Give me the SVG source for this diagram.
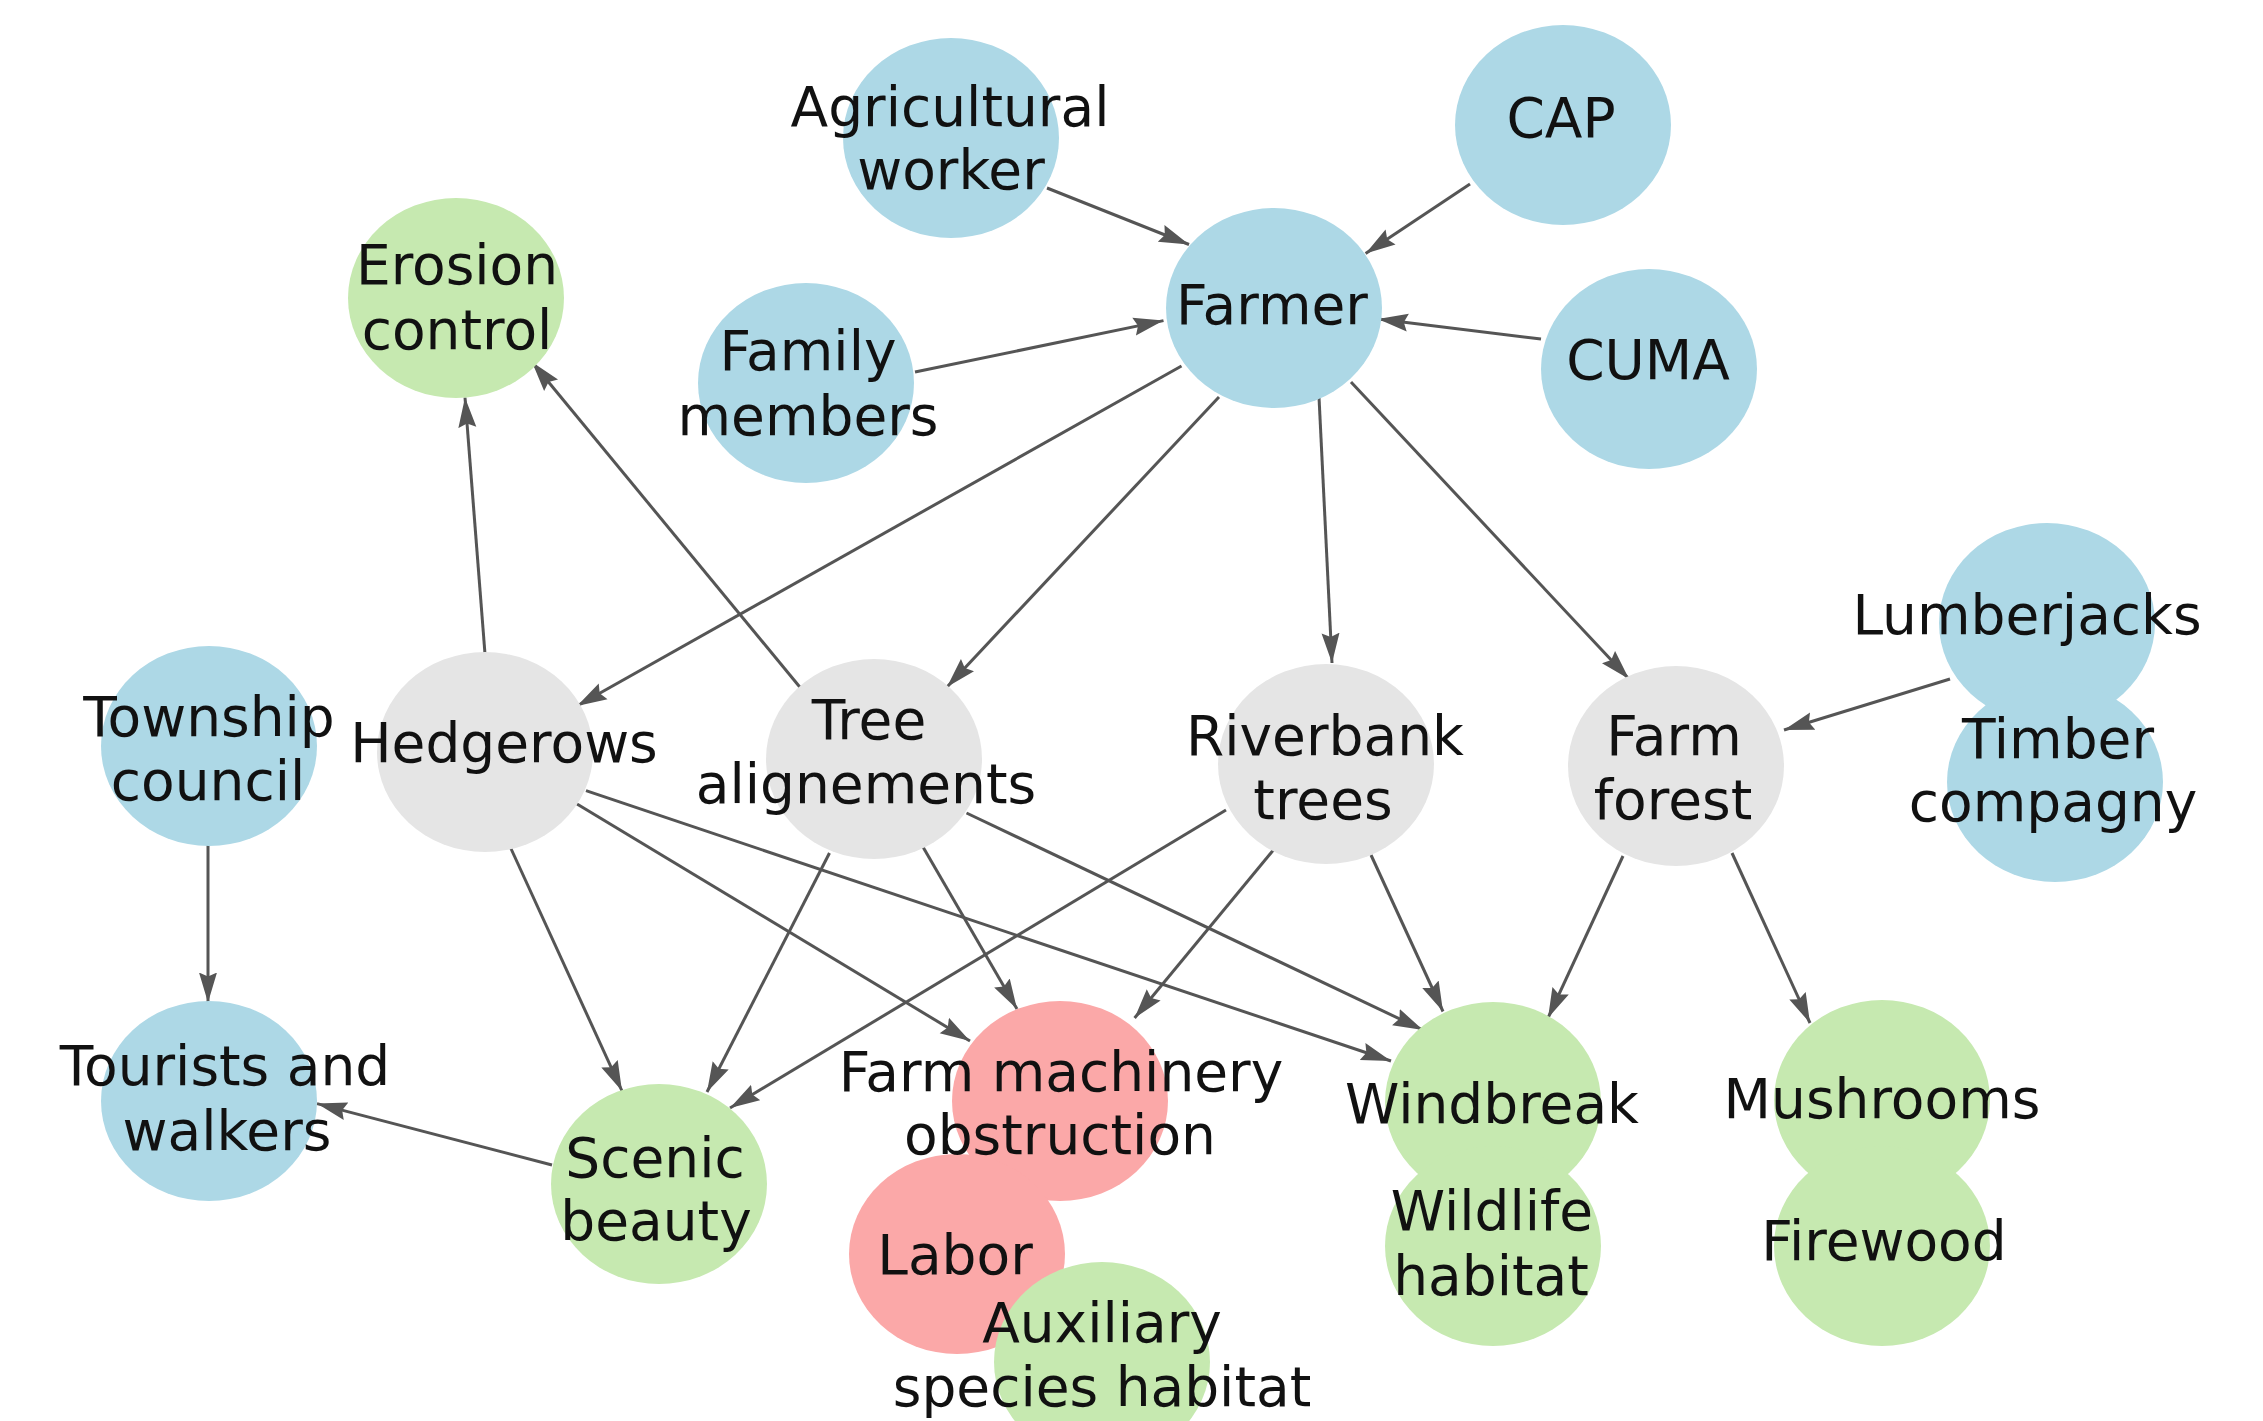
<svg xmlns="http://www.w3.org/2000/svg" width="2263" height="1421" viewBox="0 0 2263 1421">
<style>
.blue{fill:#add8e6}
.gray{fill:#e5e5e5}
.green{fill:#c6e9b0}
.pink{fill:#fba8a8}
text{font-family:"DejaVu Sans","Liberation Sans",sans-serif;font-size:55px;fill:#111;text-anchor:middle}
.e{stroke:#555;stroke-width:3;fill:none;marker-end:url(#ah)}
</style>
<defs>
<marker id="ah" markerUnits="userSpaceOnUse" markerWidth="30" markerHeight="20" viewBox="0 0 30 20" refX="30" refY="10" orient="auto">
<path d="M0,1 L30,10 L0,19 L4,10 z" fill="#555"/>
</marker>
</defs>
<rect width="2263" height="1421" fill="#fff"/>
<g id="connectors">
<line class="e" x1="1047" y1="188" x2="1189" y2="244.5"/>
<line class="e" x1="1470" y1="184" x2="1365.6" y2="253.6"/>
<line class="e" x1="915" y1="372" x2="1163.5" y2="320.6"/>
<line class="e" x1="1541" y1="339" x2="1378" y2="319"/>
<line class="e" x1="1181.5" y1="366" x2="577" y2="706"/>
<line class="e" x1="1219" y1="397" x2="947" y2="687"/>
<line class="e" x1="1319" y1="397" x2="1332" y2="663"/>
<line class="e" x1="1351" y1="382" x2="1629" y2="679"/>
<line class="e" x1="1950" y1="679" x2="1784" y2="730"/>
<line class="e" x1="485" y1="654" x2="465" y2="397.5"/>
<line class="e" x1="800.6" y1="688" x2="532" y2="362"/>
<line class="e" x1="208" y1="843" x2="208" y2="1002.5"/>
<line class="e" x1="552" y1="1165" x2="317" y2="1103.6"/>
<line class="e" x1="510.7" y1="848" x2="622" y2="1091"/>
<line class="e" x1="577" y1="804" x2="970" y2="1041"/>
<line class="e" x1="586" y1="790.7" x2="1391" y2="1061"/>
<line class="e" x1="829.5" y1="853" x2="707" y2="1092"/>
<line class="e" x1="923" y1="847" x2="1017" y2="1009"/>
<line class="e" x1="966.5" y1="813" x2="1423" y2="1030"/>
<line class="e" x1="1226" y1="810" x2="730" y2="1108"/>
<line class="e" x1="1275" y1="848" x2="1134.6" y2="1018"/>
<line class="e" x1="1371" y1="855" x2="1443" y2="1011.5"/>
<line class="e" x1="1623" y1="856" x2="1548" y2="1018"/>
<line class="e" x1="1732" y1="853" x2="1810" y2="1023"/>
</g>
<g id="n-agricultural-worker"><ellipse class="blue" cx="951" cy="138" rx="108" ry="100"/></g>
<g id="n-cap"><ellipse class="blue" cx="1563" cy="125" rx="108" ry="100"/></g>
<g id="n-farmer"><ellipse class="blue" cx="1274" cy="308" rx="108" ry="100"/></g>
<g id="n-family-members"><ellipse class="blue" cx="806" cy="383" rx="108" ry="100"/></g>
<g id="n-cuma"><ellipse class="blue" cx="1649" cy="369" rx="108" ry="100"/></g>
<g id="n-lumberjacks"><ellipse class="blue" cx="2047" cy="623" rx="108" ry="100"/></g>
<g id="n-timber-compagny"><ellipse class="blue" cx="2055" cy="782" rx="108" ry="100"/></g>
<g id="n-township-council"><ellipse class="blue" cx="209" cy="746" rx="108" ry="100"/></g>
<g id="n-tourists-and-walkers"><ellipse class="blue" cx="209" cy="1101" rx="108" ry="100"/></g>
<g id="n-hedgerows"><ellipse class="gray" cx="485" cy="752" rx="108" ry="100"/></g>
<g id="n-tree-alignements"><ellipse class="gray" cx="874" cy="759" rx="108" ry="100"/></g>
<g id="n-riverbank-trees"><ellipse class="gray" cx="1326" cy="764" rx="108" ry="100"/></g>
<g id="n-farm-forest"><ellipse class="gray" cx="1676" cy="766" rx="108" ry="100"/></g>
<g id="n-erosion-control"><ellipse class="green" cx="456" cy="298" rx="108" ry="100"/></g>
<g id="n-scenic-beauty"><ellipse class="green" cx="659" cy="1184" rx="108" ry="100"/></g>
<g id="n-windbreak"><ellipse class="green" cx="1493" cy="1102" rx="108" ry="100"/></g>
<g id="n-wildlife-habitat"><ellipse class="green" cx="1493" cy="1246" rx="108" ry="100"/></g>
<g id="n-mushrooms"><ellipse class="green" cx="1882" cy="1100" rx="108" ry="100"/></g>
<g id="n-firewood"><ellipse class="green" cx="1882" cy="1246" rx="108" ry="100"/></g>
<g id="n-farm-machinery-obstruction"><ellipse class="pink" cx="1060" cy="1101" rx="108" ry="100"/></g>
<g id="n-labor"><ellipse class="pink" cx="957" cy="1254" rx="108" ry="100"/></g>
<g id="n-auxiliary-species-habitat"><ellipse class="green" cx="1102" cy="1362" rx="108" ry="100"/></g>
<g id="labels">
<text x="950" y="126">Agricultural</text><text x="951" y="189">worker</text>
<text x="1561" y="137">CAP</text>
<text x="1272" y="324">Farmer</text>
<text x="808" y="370">Family</text><text x="808" y="435">members</text>
<text x="1648" y="379">CUMA</text>
<text x="457" y="284">Erosion</text><text x="457" y="349">control</text>
<text x="2027" y="634">Lumberjacks</text>
<text x="2058" y="758">Timber</text><text x="2053" y="821">compagny</text>
<text x="209" y="736">Township</text><text x="208" y="800">council</text>
<text x="504" y="762">Hedgerows</text>
<text x="869" y="739">Tree</text><text x="866" y="803">alignements</text>
<text x="1325" y="755">Riverbank</text><text x="1323" y="819">trees</text>
<text x="1674" y="755">Farm</text><text x="1673" y="819">forest</text>
<text x="225" y="1085">Tourists and</text><text x="227" y="1150">walkers</text>
<text x="655" y="1177">Scenic</text><text x="656" y="1240">beauty</text>
<text x="1061" y="1091">Farm machinery</text><text x="1060" y="1154">obstruction</text>
<text x="955" y="1274">Labor</text>
<text x="1102" y="1342">Auxiliary</text><text x="1102" y="1406">species habitat</text>
<text x="1492" y="1123">Windbreak</text>
<text x="1492" y="1230">Wildlife</text><text x="1491" y="1295">habitat</text>
<text x="1882" y="1118">Mushrooms</text>
<text x="1884" y="1260">Firewood</text>
</g>
</svg>
